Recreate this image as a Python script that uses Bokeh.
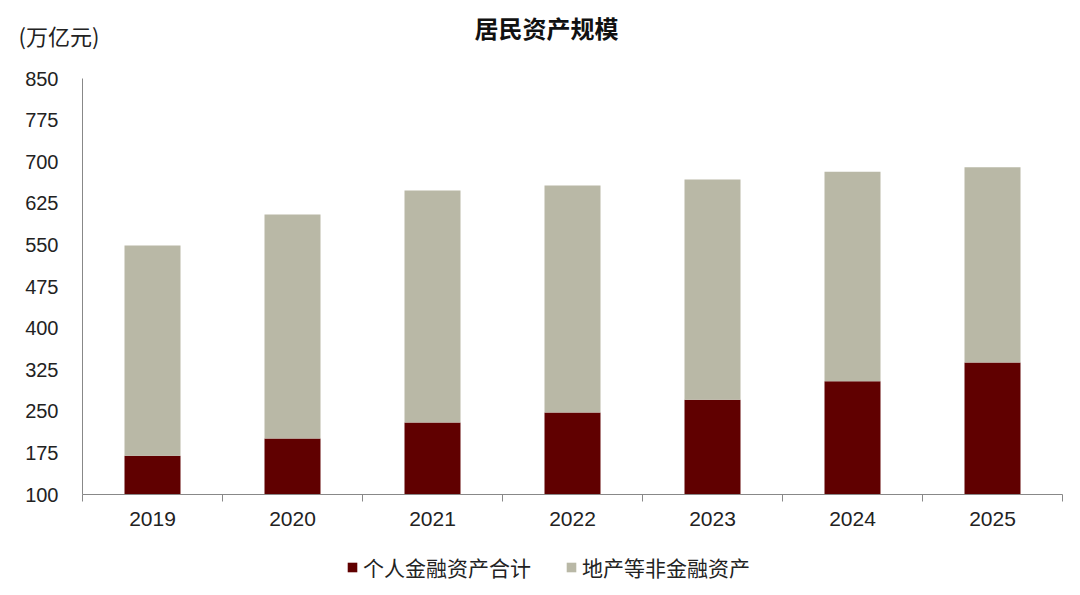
from bokeh.plotting import figure
from bokeh.models import ColumnDataSource, FixedTicker, Range1d, Label, Legend, LegendItem
from bokeh.embed import file_html
from bokeh.resources import INLINE

years = ["2019", "2020", "2021", "2022", "2023", "2024", "2025"]
financial = [170, 201, 230, 248, 271, 304, 338]
total = [549, 605, 648, 657, 668, 682, 690]
non_financial = [t - f for t, f in zip(total, financial)]
y_ticks = [100, 175, 250, 325, 400, 475, 550, 625, 700, 775, 850]

series_names = ["个人金融资产合计", "地产等非金融资产"]
colors = ["#600000", "#B9B8A6"]
title_text = "居民资产规模"
unit_text = "(万亿元)"

xs = [i + 0.5 for i in range(len(years))]
src = ColumnDataSource(dict(x=xs, fin=financial, nonfin=non_financial, years=years))

CJK = "Noto Sans CJK SC"
LAT = "Liberation Sans"
W = 1080


def bare(height, yr):
    f = figure(width=W, height=height, output_backend="svg", toolbar_location=None,
               x_range=Range1d(0, 1), y_range=yr,
               x_axis_location=None, y_axis_location=None,
               min_border_left=0, min_border_right=0, min_border_top=0, min_border_bottom=0)
    f.outline_line_color = None
    f.grid.grid_line_color = None
    return f


# header with title and unit
head = bare(66, Range1d(0, 1))
head.add_layout(Label(x=546, y=39, x_units="screen", y_units="screen", text=title_text,
                      text_font=CJK, text_font_size="24px", text_font_style="bold",
                      text_color="#111111", text_align="center", text_baseline="middle"))
head.add_layout(Label(x=18, y=32, x_units="screen", y_units="screen", text=unit_text,
                      text_font=CJK, text_font_size="22px",
                      text_color="#222222", text_align="left", text_baseline="middle"))

# main chart
p = figure(width=W, height=476, output_backend="svg", toolbar_location=None,
           x_range=Range1d(0, len(years)), y_range=Range1d(100, 850),
           min_border_left=82, min_border_right=18, min_border_top=12, min_border_bottom=48)
p.outline_line_color = None
p.grid.grid_line_color = None

p.vbar_stack(["fin", "nonfin"], x="x", width=0.4, source=src,
             color=colors, line_color=None)

xa = p.xaxis[0]
xa.ticker = FixedTicker(ticks=xs, minor_ticks=list(range(len(years) + 1)))
xa.major_label_overrides = {x: y for x, y in zip(xs, years)}
xa.major_tick_out = 0
xa.major_tick_in = 0
xa.minor_tick_out = 7
xa.minor_tick_in = 0
xa.minor_tick_line_color = "#888888"
xa.axis_line_color = "#888888"
xa.major_label_text_font = LAT
xa.major_label_text_font_size = "21px"
xa.major_label_text_color = "#222222"
xa.major_label_standoff = 10

ya = p.yaxis[0]
ya.ticker = FixedTicker(ticks=y_ticks)
ya.major_tick_out = 0
ya.major_tick_in = 0
ya.minor_tick_out = 0
ya.minor_tick_in = 0
ya.axis_line_color = "#888888"
ya.major_label_text_font = LAT
ya.major_label_text_font_size = "20px"
ya.major_label_text_color = "#222222"
ya.major_label_standoff = 24

# legend strip (same series as hidden renderers, used only for the legend swatches)
leg = bare(53, Range1d(-2, -1))
leg_rs = leg.vbar_stack(["fin", "nonfin"], x="x", width=0.4, source=src,
                        color=colors, line_color=None)
for r in leg_rs:
    r.visible = False
legend = Legend(items=[LegendItem(label=n, renderers=[r]) for n, r in zip(series_names, leg_rs)],
                orientation="horizontal", location=(346, 13),
                label_text_font=CJK, label_text_font_size="21px", label_text_color="#222222",
                glyph_width=12, glyph_height=12, label_standoff=5, spacing=34,
                padding=0, margin=0, border_line_color=None, background_fill_alpha=0,
                inactive_fill_alpha=0)
leg.add_layout(legend, "center")

open("out.html", "w").write(file_html([head, p, leg], INLINE))
